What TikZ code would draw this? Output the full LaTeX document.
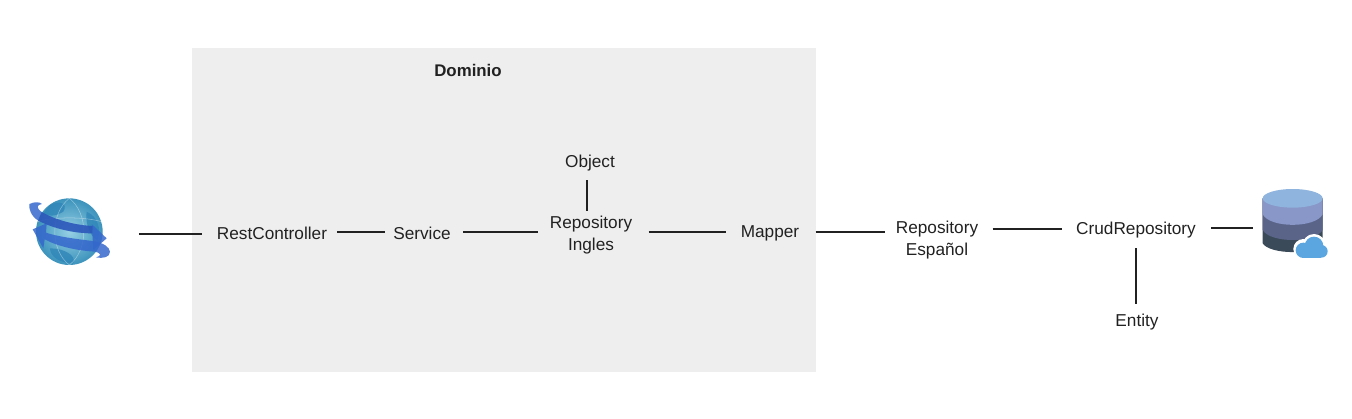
\documentclass[tikz,border=0pt]{standalone}
\usepackage{fontspec}
\setmainfont{Liberation Sans}
\definecolor{panelgray}{HTML}{EEEEEE}
\definecolor{inkgray}{HTML}{212121}
\definecolor{globeblue}{HTML}{7CC4DE}
\definecolor{globeedge}{HTML}{3C93BC}
\definecolor{globedark}{HTML}{2F86B8}
\definecolor{bandblue}{HTML}{3567CC}
\definecolor{banddark}{HTML}{1E3F9E}
\definecolor{dbone}{HTML}{8FB4DD}
\definecolor{dbtwo}{HTML}{8896C8}
\definecolor{dbthree}{HTML}{5A6488}
\definecolor{dbfour}{HTML}{3B4A58}
\definecolor{cloudblue}{HTML}{5BA6E0}
\begin{document}
\begin{tikzpicture}[x=0.02cm,y=-0.02cm,
    label/.style={font=\fontsize{9.8pt}{12.2pt}\selectfont,text=inkgray,inner sep=0pt,align=center},
    link/.style={draw=inkgray,line width=0.6pt}]
    \useasboundingbox (0,0) rectangle (1352,419);
    \fill[panelgray] (192,48) rectangle (816,372);

    % pictures at both ends
    \node[inner sep=0pt,minimum width=1.58cm,minimum height=1.4cm] (web) at (69,231) {};
    \node[inner sep=0pt,minimum width=1.5cm,minimum height=1.4cm] (cloud) at (1291,223) {};

    \node[label,font=\fontsize{9.6pt}{11.9pt}\selectfont\bfseries] (dominio) at (468,70) {Dominio};
    \node[label] (rest) at (272,233) {RestController};
    \node[label] (service) at (422,233) {Service};
    \node[label] (object) at (590,163) {Object};
    \node[label] (ingles) at (591,235) {Repository\\Ingles};
    \node[label] (mapper) at (770,233) {Mapper};
    \node[label] (espanol) at (937,240) {Repository\\Español};
    \node[label] (crud) at (1136,230) {CrudRepository};
    \node[label] (entity) at (1137,322) {Entity};

    \draw[link,shorten <=.6cm,shorten >=.3cm] (web.east |- 0,234) -- (rest.west |- 0,234);
    \draw[link,shorten <=.2cm,shorten >=.16cm] (rest.east |- 0,232) -- (service.west |- 0,232);
    \draw[link,shorten <=.24cm,shorten >=.24cm] (service.east |- 0,232) -- (ingles.west |- 0,232);
    \draw[link,shorten <=.32cm,shorten >=.28cm] (ingles.east |- 0,232) -- (mapper.west |- 0,232);
    \draw[link,shorten <=.32cm,shorten >=.22cm] (mapper.east |- 0,232) -- (espanol.west |- 0,232);
    \draw[link,shorten <=.28cm,shorten >=.28cm] (espanol.east |- 0,229) -- (crud.west |- 0,229);
    \draw[link,shorten <=.3cm] (crud.east |- 0,228) -- (cloud.west |- 0,228);
    \draw[link,shorten <=.18cm,shorten >=.1cm] (object.south -| 587,0) -- (ingles.north -| 587,0);
    \draw[link,shorten <=.2cm,shorten >=.2cm] (crud.south) -- (crud.south |- entity.north);

    % globe
    \begin{scope}[shift={(10,180)},x=0.00667cm,y=-0.00667cm]
        \shade[inner color=globeblue!80!white,outer color=globeedge] (178,155) circle (100);
        \fill[globedark,opacity=.8] (120,75) .. controls (150,60) and (175,70) .. (160,95) .. controls (135,110) and (115,110) .. (100,100) -- cycle;
        \fill[globedark,opacity=.8] (230,95) .. controls (265,110) and (275,150) .. (262,180) .. controls (240,170) and (225,130) .. cycle;
        \fill[globedark,opacity=.8] (120,205) .. controls (160,205) and (200,225) .. (190,250) .. controls (150,250) and (120,230) .. cycle;
        \draw[white,opacity=.4,line width=0.3pt] (178,55) .. controls (120,100) and (120,210) .. (178,255)
            (178,55) .. controls (236,100) and (236,210) .. (178,255)
            (82,125) .. controls (130,110) and (226,110) .. (274,125);
        % upper band
        \fill[bandblue,opacity=.85] (58,72) .. controls (75,64) and (90,66) .. (96,72) .. controls (80,74) and (78,84) .. (95,96)
            .. controls (140,122) and (200,136) .. (248,138) -- (245,132) -- (290,175) -- (250,210) -- (247,160)
            .. controls (190,160) and (130,145) .. (85,122) .. controls (62,108) and (56,85) .. cycle;
        % lower band
        \fill[bandblue,opacity=.85] (300,215) .. controls (300,232) and (280,236) .. (258,232) .. controls (275,228) and (275,220) .. (255,215)
            .. controls (200,212) and (140,198) .. (104,178) -- (100,205) -- (68,148) -- (110,130) -- (108,158)
            .. controls (150,172) and (210,178) .. (255,184) .. controls (280,190) and (298,200) .. cycle;
        \fill[banddark,opacity=.35] (95,96) .. controls (140,122) and (200,136) .. (248,138) -- (247,160) .. controls (190,160) and (130,145) .. (85,122) -- cycle;
    \end{scope}

    % database
    \begin{scope}[shift={(1240,175)},x=0.00667cm,y=-0.00667cm]
        \fill[dbfour] (68,70) -- (68,205) .. controls (90,240) and (226,240) .. (248,205) -- (248,70) -- cycle;
        \fill[dbthree] (68,70) -- (68,165) .. controls (90,205) and (226,205) .. (248,165) -- (248,70) -- cycle;
        \fill[dbtwo] (68,70) -- (68,118) .. controls (90,160) and (226,160) .. (248,118) -- (248,70) -- cycle;
        \fill[dbone] (158,70) ellipse (90 and 28);
        % cloud with a white rim
        \fill[white] (190,222) circle (30);
        \fill[white] (222,212) circle (35);
        \fill[white] (245,226) circle (26);
        \fill[white] (190,225) rectangle (245,254);
        \fill[cloudblue] (190,226) circle (23);
        \fill[cloudblue] (222,213) circle (28);
        \fill[cloudblue] (244,229) circle (19);
        \fill[cloudblue] (190,225) rectangle (244,248);
    \end{scope}
\end{tikzpicture}
\end{document}
